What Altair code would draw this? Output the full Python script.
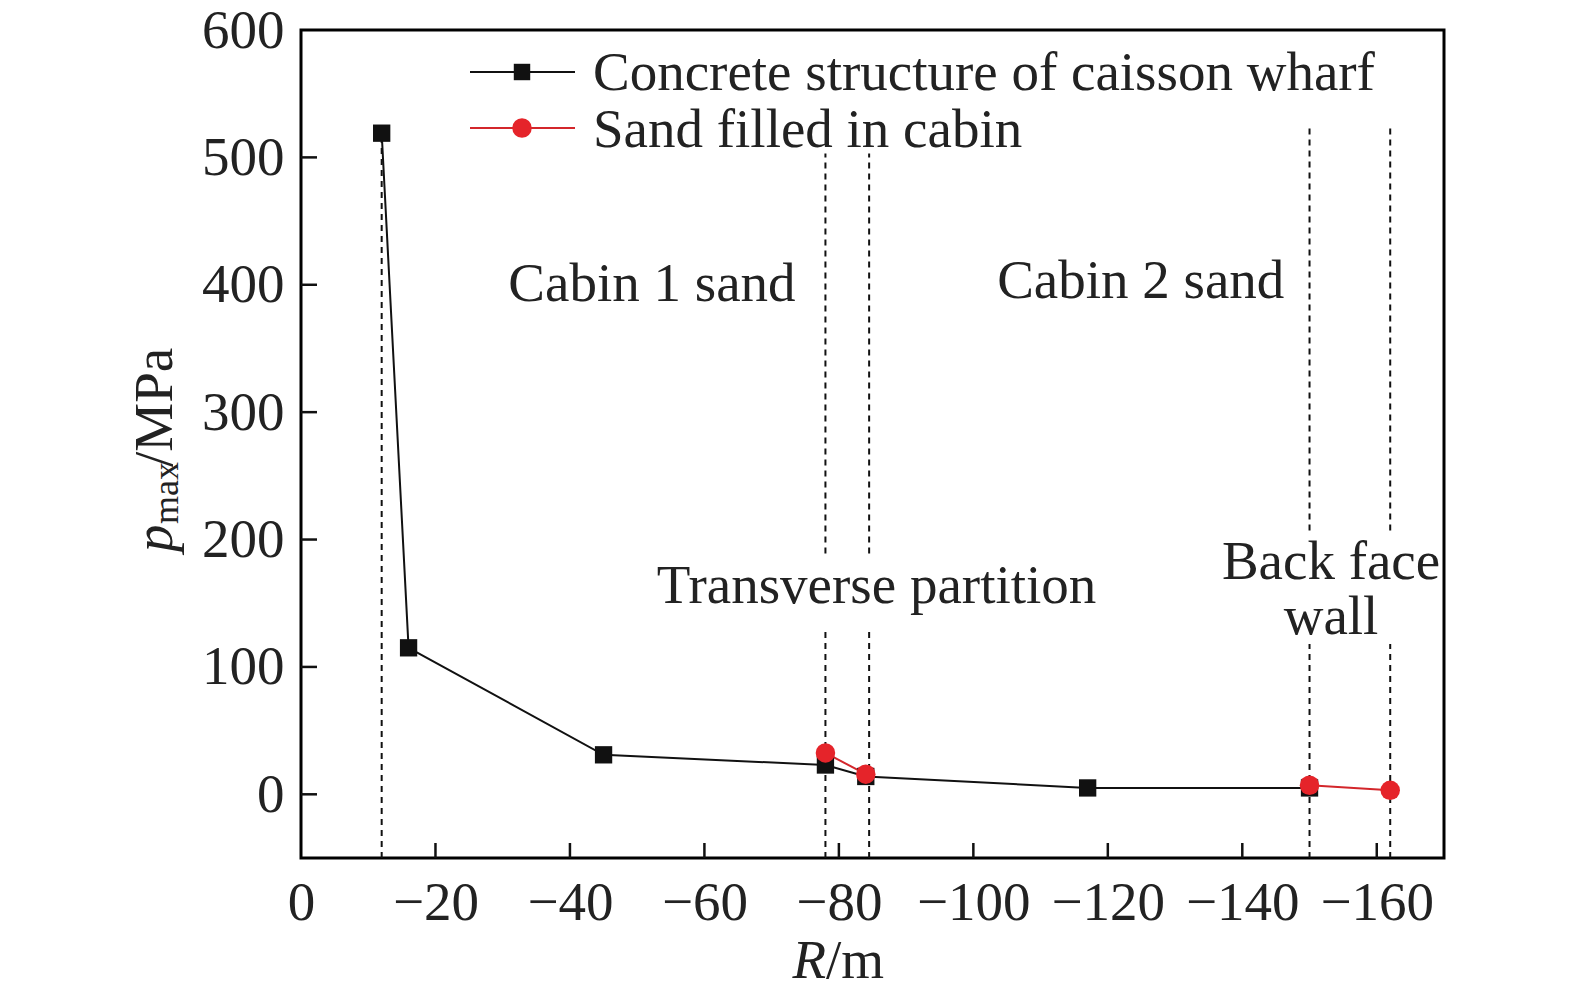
import altair as alt
import pandas as pd

FONT = "Liberation Serif"
W, H = 1143, 828

# ---- data ----
concrete_R = [-12, -16, -45, -78, -84, -117, -150]
concrete_p = [519, 115, 31, 23, 14, 5, 5]

sand_R = [-78, -84, -150, -162]
sand_p = [32.5, 15.8, 7.1, 3.1]
sand_seg = ["a", "a", "b", "b"]

# dashed reference lines (interrupted behind the annotation texts)
dash_R = [-12, -78, -78, -84.5, -84.5, -150, -150, -162, -162]
dash_from = [-50, -50, 189, -50, 189, -50, 207, -50, 207]
dash_to = [519, 131, 503, 131, 503, 118, 523, 118, 523]

note_text = ["Cabin 1 sand", "Cabin 2 sand", "Transverse partition", "Back face", "wall"]
note_R = [-52.2, -124.9, -85.6, -153.2, -153.2]
note_p = [387, 390, 150, 169, 126]

x_label_values = [0, -20, -40, -60, -80, -100, -120, -140, -160]
x_tick_values = [-20, -40, -60, -80, -100, -120, -140, -160]
y_label_values = [0, 100, 200, 300, 400, 500, 600]
y_tick_values = [0, 100, 200, 300, 400, 500]

legend_labels = ["Concrete structure of caisson wharf", "Sand filled in cabin"]
x_title_parts = ["R", "/m"]
y_title_parts = ["p", "max", "/MPa"]

BLACK = "#111111"
RED = "#e5242a"
RED_LINE = "#d3262b"
TEXT = "#222222"

xs = alt.Scale(domain=[0, -170], nice=False, zero=False)
ys = alt.Scale(domain=[-50, 600], nice=False, zero=False)
x_axis = alt.Axis(values=x_label_values, format="d", title=None, labelFlush=False,
                  labelOverlap=False, labelPadding=18)
y_axis = alt.Axis(values=y_label_values, format="d", title=None, labelFlush=False,
                  labelOverlap=False, labelPadding=17)


def X(field):
    return alt.X(field, type="quantitative", scale=xs, axis=x_axis)


def Y(field):
    return alt.Y(field, type="quantitative", scale=ys, axis=y_axis)


df_c = pd.DataFrame({"R": concrete_R, "p": concrete_p})
df_s = pd.DataFrame({"R": sand_R, "p": sand_p, "seg": sand_seg})
df_d = pd.DataFrame({"R": dash_R, "p0": dash_from, "p1": dash_to})
df_n = pd.DataFrame({"R": note_R, "p": note_p, "t": note_text})

dash = alt.Chart(df_d).mark_rule(strokeDash=[6, 5], strokeWidth=2, color=BLACK).encode(
    x=X("R"), y=Y("p0"), y2="p1")

black_line = alt.Chart(df_c).mark_line(color=BLACK, strokeWidth=2).encode(x=X("R"), y=Y("p"))
black_pts = alt.Chart(df_c).mark_point(shape="square", filled=True, size=300, color=BLACK,
                                       opacity=1).encode(x=X("R"), y=Y("p"))
red_line = alt.Chart(df_s).mark_line(color=RED_LINE, strokeWidth=2).encode(
    x=X("R"), y=Y("p"), detail="seg:N")
red_pts = alt.Chart(df_s).mark_point(shape="circle", filled=True, size=380, color=RED,
                                     opacity=1).encode(x=X("R"), y=Y("p"))

notes = alt.Chart(df_n).mark_text(font=FONT, fontSize=55, color=TEXT, align="center",
                                  baseline="alphabetic").encode(x=X("R"), y=Y("p"), text="t:N")

xt = alt.Chart(pd.DataFrame({"v": x_tick_values})).mark_rule(color=BLACK, strokeWidth=2.5).encode(
    x=X("v"), y=alt.value(H - 15), y2=alt.value(H))
yt = alt.Chart(pd.DataFrame({"v": y_tick_values})).mark_rule(color=BLACK, strokeWidth=2.5).encode(
    y=Y("v"), x=alt.value(0), x2=alt.value(16))

layers = [dash, black_line, red_line, black_pts, red_pts, notes, xt, yt]

# ---- manual legend (line with marker in the middle) ----
legend_specs = [
    (legend_labels[0], BLACK, BLACK, "square", 270, 42, 60),
    (legend_labels[1], RED_LINE, RED, "circle", 380, 98, 117),
]
for label, lcol, mcol, shape, size, yc, yb in legend_specs:
    d = pd.DataFrame({"label": [label]})
    layers.append(alt.Chart(d).mark_rule(color=lcol, strokeWidth=2).encode(
        x=alt.value(169), x2=alt.value(274), y=alt.value(yc)))
    layers.append(alt.Chart(d).mark_point(shape=shape, filled=True, size=size, color=mcol,
                                          opacity=1).encode(x=alt.value(221), y=alt.value(yc)))
    layers.append(alt.Chart(d).mark_text(font=FONT, fontSize=55, color=TEXT, align="left",
                                         baseline="alphabetic").encode(
        x=alt.value(292), y=alt.value(yb), text="label:N"))

# ---- axis titles (italic symbol + subscript) ----
def title_text(txt, x, y, size, italic=False, angle=0, align="left"):
    kw = dict(font=FONT, fontSize=size, color=TEXT, align=align, baseline="alphabetic")
    if italic:
        kw["fontStyle"] = "italic"
    if angle:
        kw["angle"] = angle
    return alt.Chart(pd.DataFrame({"t": [txt]})).mark_text(**kw).encode(
        x=alt.value(x), y=alt.value(y), text="t:N")

layers.append(title_text(x_title_parts[0], 525, 948, 55, italic=True, align="right"))
layers.append(title_text(x_title_parts[1], 525, 948, 55))
layers.append(title_text(y_title_parts[0], -129, 522, 55, italic=True, angle=270))
layers.append(title_text(y_title_parts[1], -123, 494, 36, angle=270))
layers.append(title_text(y_title_parts[2], -129, 437, 55, angle=270))

chart = alt.layer(*layers).properties(
    width=W, height=H,
    autosize=alt.AutoSizeParams(type="none"),
    padding={"left": 293, "top": 22, "right": 115, "bottom": 132},
).configure_view(
    stroke="black", strokeWidth=3
).configure_axis(
    labelFont=FONT, labelFontSize=55, labelColor=TEXT, tickSize=0, domain=False, grid=False
)

chart.save("out.html", embed_options={"renderer": "svg", "actions": False})
